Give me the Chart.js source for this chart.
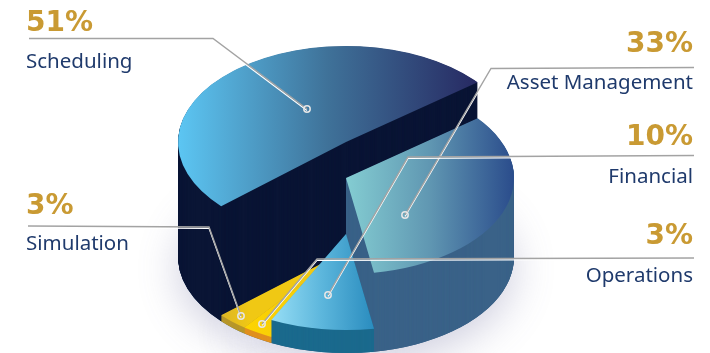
<!DOCTYPE html>
<html>
<head>
<meta charset="utf-8">
<style>
  html, body { margin: 0; padding: 0; background: #ffffff; }
  #wrap { width: 710px; height: 353px; }
</style>
<script src="https://cdn.jsdelivr.net/npm/chart.js@4"></script>
</head>
<body>
<div id="wrap"><canvas id="chart" width="710" height="353"></canvas></div>
<script>
// Share of work by application area
const categories = ['Asset Management', 'Financial', 'Operations', 'Simulation', 'Scheduling'];
const shares = [33, 10, 3, 3, 51];

// Slice appearance, same order as the categories
const faceStops = [
  ['#84cdd2', '#6097b2', '#2b4d8c'],
  ['#97def5', '#5cb6dc', '#2b8dbf'],
  ['#fdd500', '#fbd203', '#f8cf06'],
  ['#dcb526', '#e6be1d', '#f0c814'],
  ['#5cc6f3', '#3f7299', '#272a63']
];
const faceSpans = [[346, 513], [271, 373], [244, 272], [220, 250], [178, 476]];
const wallColors = ['#3a6288', '#1b6a8d', '#e0901f', '#b7972a', '#0a1535'];
const sliceLifts = [79, 23, 6, 6, 115];

// Back-to-front painting sequence (indices into the categories)
const paintOrder = [4, 0, 3, 2, 1];

// Oblique projection of the flat pie
const view = { cx: 346, floorY: 257, rx: 168, ry: 96, startDeg: 51.6 };

// Callout text placement and the route of each leader line
const callouts = [
  { side: 'right', x: 693, pctY: 52,  nameY: 89,  route: [[694, 67.5], [491, 68.5], [405, 215]] },
  { side: 'right', x: 693, pctY: 145, nameY: 183, route: [[694, 155.5], [408, 157], [328, 295]] },
  { side: 'right', x: 693, pctY: 244, nameY: 282, route: [[694, 258], [317, 259], [262, 324]] },
  { side: 'left',  x: 26,  pctY: 214, nameY: 250, route: [[28, 226], [209, 227], [241, 316]] },
  { side: 'left',  x: 26,  pctY: 31,  nameY: 68,  route: [[29, 38.5], [213, 38.5], [307, 109]] }
];

function project(ctx, arc, lift) {
  const sx = view.rx / arc.outerRadius;
  const sy = view.ry / arc.outerRadius;
  ctx.translate(view.cx, view.floorY - lift);
  ctx.scale(sx, sy);
  ctx.translate(-arc.x, -arc.y);
}

function drawArcAs(ctx, arc, fill, lift) {
  const resolved = arc.options;
  arc.options = Object.assign({}, resolved, { backgroundColor: fill });
  ctx.save();
  project(ctx, arc, lift);
  arc.draw(ctx);
  ctx.restore();
  arc.options = resolved;
}

// Horizontal face gradient, given in screen x and mapped into the arc's own space
function faceGradient(ctx, arc, i) {
  const k = arc.outerRadius / view.rx;
  const [x0, x1] = faceSpans[i];
  const g = ctx.createLinearGradient(arc.x + (x0 - view.cx) * k, 0, arc.x + (x1 - view.cx) * k, 0);
  faceStops[i].forEach((color, n) => g.addColorStop(n / (faceStops[i].length - 1), color));
  return g;
}

const extrudedPie = {
  id: 'extrudedPie',
  beforeDatasetsDraw(chart) {
    const ctx = chart.ctx;
    const arcs = chart.getDatasetMeta(0).data;

    // Soft ground shadow under the whole pie
    ctx.save();
    ctx.shadowColor = 'rgba(95, 95, 150, 0.3)';
    ctx.shadowBlur = 40;
    ctx.shadowOffsetY = 12;
    arcs.forEach(arc => drawArcAs(ctx, arc, '#3a6288', 0));
    ctx.restore();

    // Walls are swept up from the floor, then each slice gets its top face
    paintOrder.forEach(i => {
      const arc = arcs[i];
      for (let h = 0; h < sliceLifts[i]; h += 0.5) {
        drawArcAs(ctx, arc, wallColors[i], h);
      }
      drawArcAs(ctx, arc, faceGradient(ctx, arc, i), sliceLifts[i]);
    });
    return false;
  },
  afterDraw(chart) {
    const ctx = chart.ctx;
    ctx.save();
    ctx.lineJoin = 'miter';

    // Leader lines: a grey stroke with a white companion just below it
    callouts.forEach(c => {
      const trace = dy => {
        ctx.beginPath();
        c.route.forEach(([x, y], n) => n ? ctx.lineTo(x, y + dy) : ctx.moveTo(x, y + dy));
        ctx.stroke();
      };
      ctx.lineWidth = 1.2;
      ctx.strokeStyle = '#ffffff';
      trace(1.4);
      ctx.strokeStyle = '#a3a3a3';
      ctx.lineWidth = 1.4;
      trace(0);

      const [ex, ey] = c.route[c.route.length - 1];
      ctx.beginPath();
      ctx.arc(ex, ey, 3.2, 0, Math.PI * 2);
      ctx.strokeStyle = '#e6e6e6';
      ctx.lineWidth = 1.5;
      ctx.stroke();
    });

    // Percentages and category names
    callouts.forEach((c, i) => {
      ctx.textAlign = c.side === 'right' ? 'right' : 'left';
      ctx.textBaseline = 'alphabetic';
      ctx.fillStyle = '#c99a33';
      ctx.font = 'bold 28px "DejaVu Sans"';
      ctx.fillText(shares[i] + '%', c.x, c.pctY);
      ctx.fillStyle = '#1f3a6c';
      ctx.font = '20.5px "Noto Sans"';
      ctx.fillText(categories[i], c.x, c.nameY);
    });
    ctx.restore();
  }
};

new Chart(document.getElementById('chart'), {
  type: 'pie',
  data: {
    labels: categories,
    datasets: [{ data: shares, backgroundColor: wallColors, borderWidth: 0 }]
  },
  options: {
    responsive: false,
    animation: false,
    rotation: view.startDeg,
    layout: { padding: 0 },
    plugins: { legend: { display: false }, tooltip: { enabled: false } }
  },
  plugins: [extrudedPie]
});
</script>
</body>
</html>
